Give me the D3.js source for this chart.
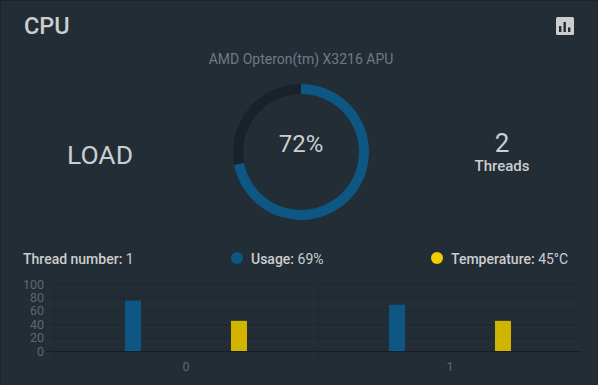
<!DOCTYPE html>
<html>
<head>
<meta charset="utf-8">
<script src="https://cdn.jsdelivr.net/npm/d3@7"></script>
<style>
  html, body { margin: 0; padding: 0; background: #232d36; overflow: hidden; }
  svg { display: block; font-family: Roboto, sans-serif; }
</style>
</head>
<body>
<script>
const threads = ["0", "1"];
const seriesNames = ["usage", "temperature"];
const usageValues = [75, 69];
const temperatureValues = [45, 45];
const yTicks = [0, 20, 40, 60, 80, 100];
const loadParts = [72, 28];
const iconBars = [[3, 5], [7.5, 9], [12, 3.5]];

const width = 598;
const height = 385;
const bg = "#232d36";
const blue = "#0e5785";
const yellow = "#d1b400";
const grid = "#1e2831";
const textColor = "#cbcdcf";
const axisColor = "#5f686f";

const svg = d3.select("body").append("svg")
    .attr("width", width)
    .attr("height", height);

// Card edge
svg.append("rect")
    .attr("x", 0.5).attr("y", 0.5)
    .attr("width", width).attr("height", height)
    .attr("fill", bg)
    .attr("stroke", "#1a232c");

function label(x, y, str, size, color, anchor, weight) {
  return svg.append("text")
      .attr("x", x).attr("y", y)
      .attr("font-size", size)
      .attr("fill", color)
      .attr("text-anchor", anchor || "start")
      .attr("font-weight", weight || 400)
      .text(str);
}

label(24, 33.5, "CPU", 23.5, textColor, "start", 500);
label(301, 64, "AMD Opteron(tm) X3216 APU", 14, "#6f7a83", "middle");
label(100, 164, "LOAD", 26.5, textColor, "middle");
label(502, 152, "2", 26, textColor, "middle");
label(502, 171, "Threads", 15, textColor, "middle", 500);

// Toolbar icon
const icon = svg.append("g").attr("transform", "translate(556,17)");
icon.append("rect")
    .attr("width", 18).attr("height", 18).attr("rx", 1.5)
    .attr("fill", textColor);
icon.selectAll("rect.bar")
  .data(iconBars)
  .join("rect")
    .attr("class", "bar")
    .attr("x", d => d[0])
    .attr("y", d => 15 - d[1] - 1)
    .attr("width", 2.4)
    .attr("height", d => d[1] + 1)
    .attr("fill", bg);

// Donut
const pie = d3.pie().sort(null);
const arc = d3.arc().innerRadius(58).outerRadius(68);
const donut = svg.append("g").attr("transform", "translate(301,152)");
donut.selectAll("path")
  .data(pie(loadParts))
  .join("path")
    .attr("d", arc)
    .attr("fill", (d, i) => i === 0 ? blue : "#19212b");
donut.append("text")
    .attr("y", 0)
    .attr("text-anchor", "middle")
    .attr("font-size", 24)
    .attr("fill", textColor)
    .text(loadParts[0] + "%");

// Legend line
const thread = label(23, 264, "", 14, textColor);
thread.append("tspan").attr("font-weight", 500).text("Thread number:");
thread.append("tspan").text(" 1");
svg.append("circle").attr("cx", 237).attr("cy", 258).attr("r", 6).attr("fill", blue);
const usage = label(251, 264, "", 14, textColor);
usage.append("tspan").attr("font-weight", 500).text("Usage:");
usage.append("tspan").text(" 69%");
svg.append("circle").attr("cx", 437).attr("cy", 258).attr("r", 6).attr("fill", "#f2cc00");
const temp = label(451, 264, "", 14, textColor);
temp.append("tspan").attr("font-weight", 500).text("Temperature:");
temp.append("tspan").text(" 45°C");

// Bars
const x0 = d3.scaleBand().domain(threads).range([54, 582]);
const x1 = d3.scaleBand().domain(seriesNames).range([0, x0.bandwidth()])
    .paddingInner(0.849).paddingOuter(0.67);
const y = d3.scaleLinear().domain([0, 100]).range([351, 284]);

// Grid first, axes text on top
svg.append("g")
  .selectAll("line")
  .data(yTicks)
  .join("line")
    .attr("x1", 46).attr("x2", 582)
    .attr("y1", d => y(d) + 0.5).attr("y2", d => y(d) + 0.5)
    .attr("stroke", d => d === 0 ? "#161e26" : grid);

svg.append("g")
  .selectAll("line")
  .data(threads)
  .join("line")
    .attr("x1", d => x0(d) + 0.5).attr("x2", d => x0(d) + 0.5)
    .attr("y1", 284).attr("y2", 361)
    .attr("stroke", grid);

const yAxis = svg.append("g")
    .attr("transform", "translate(44,0)")
    .call(d3.axisLeft(y).tickValues(yTicks).tickSize(0).tickPadding(0));
yAxis.select(".domain").remove();
yAxis.selectAll("text")
    .attr("font-family", "Roboto, sans-serif")
    .attr("font-size", 12.5)
    .attr("fill", axisColor);

const xAxis = svg.append("g")
    .attr("transform", "translate(0,360)")
    .call(d3.axisBottom(x0).tickSize(0).tickPadding(2));
xAxis.select(".domain").remove();
xAxis.selectAll("text")
    .attr("font-family", "Roboto, sans-serif")
    .attr("font-size", 12.5)
    .attr("fill", axisColor);

const groups = svg.append("g")
  .selectAll("g")
  .data(threads)
  .join("g")
    .attr("transform", d => `translate(${x0(d)},0)`);

groups.append("rect")
    .attr("x", x1("usage"))
    .attr("y", (d, i) => y(usageValues[i]))
    .attr("width", x1.bandwidth())
    .attr("height", (d, i) => y(0) - y(usageValues[i]))
    .attr("fill", blue);

groups.append("rect")
    .attr("x", x1("temperature"))
    .attr("y", (d, i) => y(temperatureValues[i]))
    .attr("width", x1.bandwidth())
    .attr("height", (d, i) => y(0) - y(temperatureValues[i]))
    .attr("fill", yellow);
</script>
</body>
</html>
